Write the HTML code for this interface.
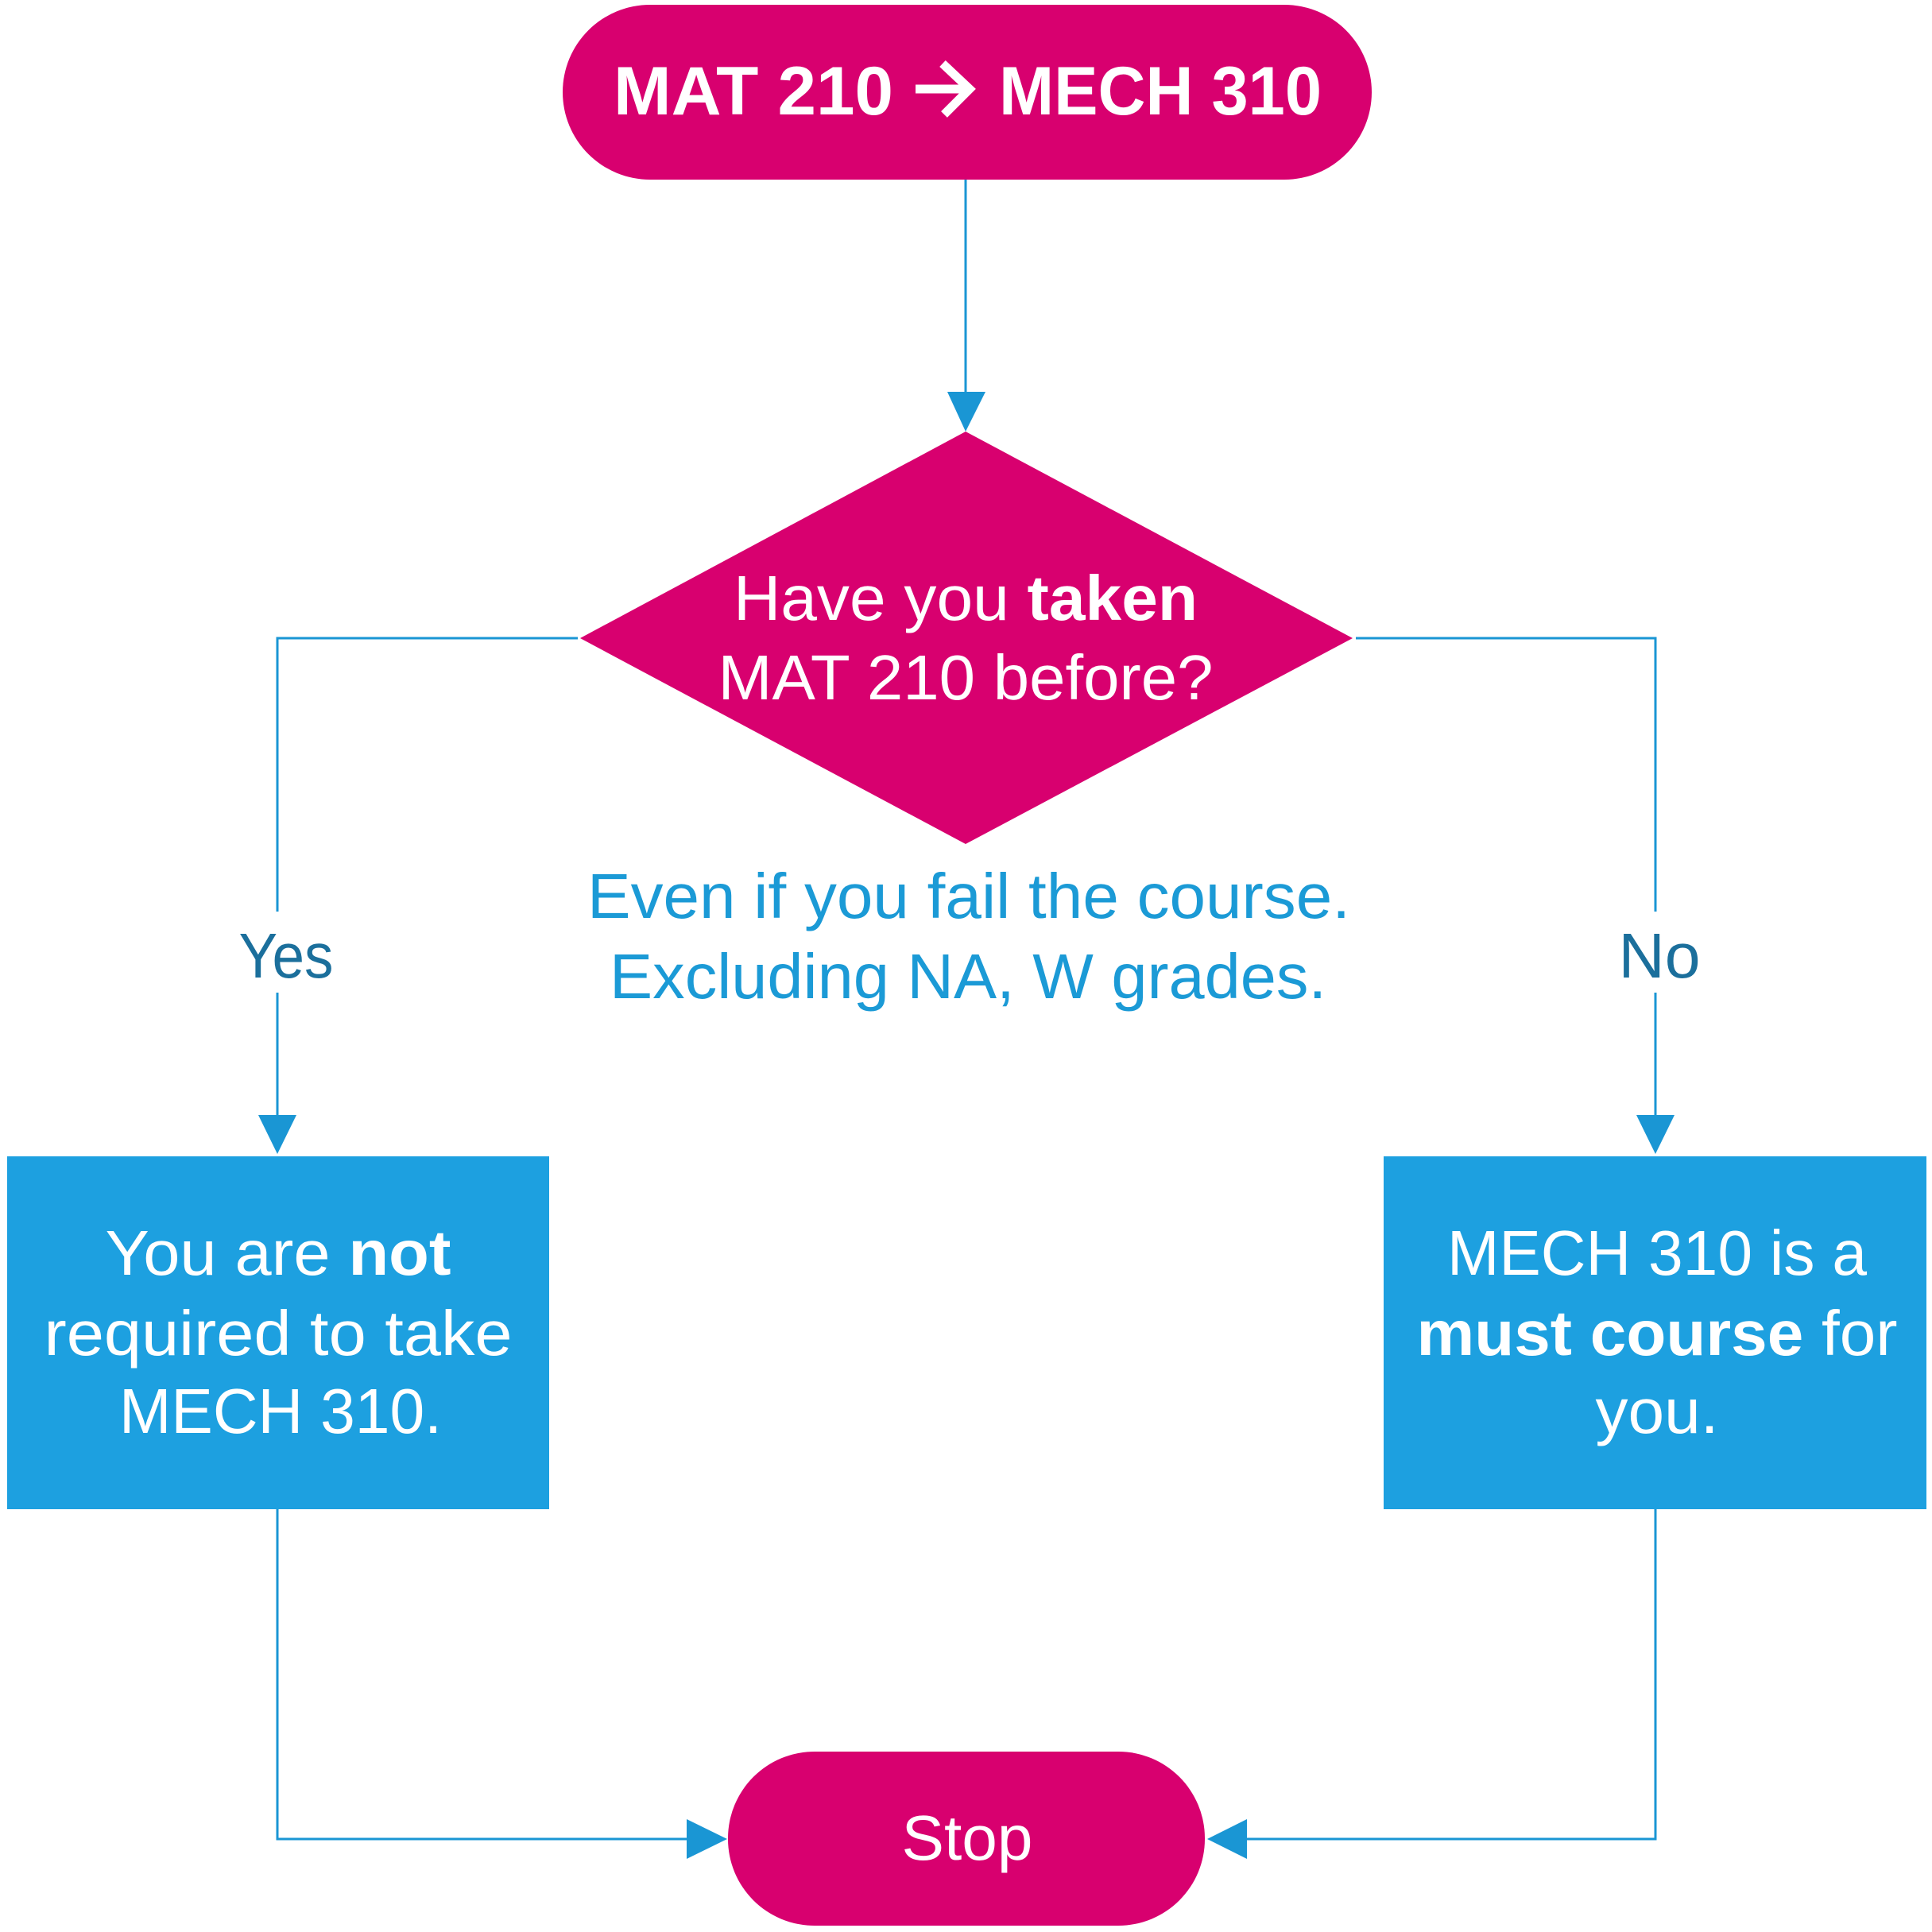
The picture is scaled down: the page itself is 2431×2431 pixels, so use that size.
<!DOCTYPE html>
<html><head><meta charset="utf-8"><style>html,body{margin:0;padding:0;background:#fff}svg{display:block}</style></head>
<body>
<svg width="2431" height="2431" viewBox="0 0 2431 2431" xmlns="http://www.w3.org/2000/svg" font-family="Liberation Sans, sans-serif">
<rect width="2431" height="2431" fill="#fff"/>
<!-- top pill -->
<rect x="708" y="6" width="1018" height="220" rx="110" ry="110" fill="#d8006f"/>
<text x="772" y="144" fill="#fff" font-weight="bold" font-size="86" textLength="352" lengthAdjust="spacingAndGlyphs">MAT 210</text>
<path d="M1152,112 L1222,112 M1186,80 L1220,112 L1188,144" fill="none" stroke="#fff" stroke-width="11" stroke-linejoin="miter"/>
<text x="1257" y="144" fill="#fff" font-weight="bold" font-size="86" textLength="406" lengthAdjust="spacingAndGlyphs">MECH 310</text>
<!-- connector top -->
<line x1="1215" y1="226" x2="1215" y2="495" stroke="#1a96d4" stroke-width="3"/>
<polygon points="1192,493 1240,493 1215,543" fill="#1a96d4"/>
<!-- diamond -->
<polygon points="1215,543 1702,803 1215,1062 730,803" fill="#d8006f"/>
<text x="1215" y="780" text-anchor="middle" fill="#fff" font-size="80" textLength="584" lengthAdjust="spacingAndGlyphs">Have you <tspan font-weight="bold">taken</tspan></text>
<text x="1215" y="880" text-anchor="middle" fill="#fff" font-size="80" textLength="623" lengthAdjust="spacingAndGlyphs">MAT 210 before?</text>
<!-- annotation -->
<text x="1219" y="1155" text-anchor="middle" fill="#1b9ad6" font-size="80" textLength="960" lengthAdjust="spacingAndGlyphs">Even if you fail the course.</text>
<text x="1218" y="1256" text-anchor="middle" fill="#1b9ad6" font-size="80" textLength="902" lengthAdjust="spacingAndGlyphs">Excluding NA, W grades.</text>
<!-- left connector -->
<polyline points="727,803 349,803 349,1147" fill="none" stroke="#1a96d4" stroke-width="3"/>
<line x1="349" y1="1249" x2="349" y2="1405" stroke="#1a96d4" stroke-width="3"/>
<polygon points="325,1403 373,1403 349,1452" fill="#1a96d4"/>
<text x="360" y="1230" text-anchor="middle" fill="#1b6f9c" font-size="80" textLength="119" lengthAdjust="spacingAndGlyphs">Yes</text>
<!-- right connector -->
<polyline points="1706,803 2083,803 2083,1147" fill="none" stroke="#1a96d4" stroke-width="3"/>
<line x1="2083" y1="1249" x2="2083" y2="1405" stroke="#1a96d4" stroke-width="3"/>
<polygon points="2059,1403 2107,1403 2083,1452" fill="#1a96d4"/>
<text x="2088" y="1230" text-anchor="middle" fill="#1b6f9c" font-size="80" textLength="103" lengthAdjust="spacingAndGlyphs">No</text>
<!-- boxes -->
<rect x="9" y="1455" width="682" height="444" fill="#1da0e0"/>
<text x="350" y="1604" text-anchor="middle" fill="#fff" font-size="80" textLength="435" lengthAdjust="spacingAndGlyphs">You are <tspan font-weight="bold">not</tspan></text>
<text x="350" y="1705" text-anchor="middle" fill="#fff" font-size="80" textLength="589" lengthAdjust="spacingAndGlyphs">required to take</text>
<text x="353" y="1803" text-anchor="middle" fill="#fff" font-size="80" textLength="406" lengthAdjust="spacingAndGlyphs">MECH 310.</text>
<rect x="1741" y="1455" width="683" height="444" fill="#1da0e0"/>
<text x="2085" y="1604" text-anchor="middle" fill="#fff" font-size="80" textLength="528" lengthAdjust="spacingAndGlyphs">MECH 310 is a</text>
<text x="2085" y="1705" text-anchor="middle" fill="#fff" font-size="80" textLength="605" lengthAdjust="spacingAndGlyphs"><tspan font-weight="bold">must course</tspan> for</text>
<text x="2085" y="1803" text-anchor="middle" fill="#fff" font-size="80" textLength="155" lengthAdjust="spacingAndGlyphs">you.</text>
<!-- bottom connectors -->
<polyline points="349,1899 349,2314 866,2314" fill="none" stroke="#1a96d4" stroke-width="3"/>
<polygon points="864,2289 864,2339 915,2314" fill="#1a96d4"/>
<polyline points="2083,1899 2083,2314 1567,2314" fill="none" stroke="#1a96d4" stroke-width="3"/>
<polygon points="1569,2289 1569,2339 1519,2314" fill="#1a96d4"/>
<!-- stop -->
<rect x="916" y="2204" width="600" height="219" rx="109" ry="109" fill="#d8006f"/>
<text x="1217" y="2340" text-anchor="middle" fill="#fff" font-size="80" textLength="165" lengthAdjust="spacingAndGlyphs">Stop</text>
</svg>
</body></html>
